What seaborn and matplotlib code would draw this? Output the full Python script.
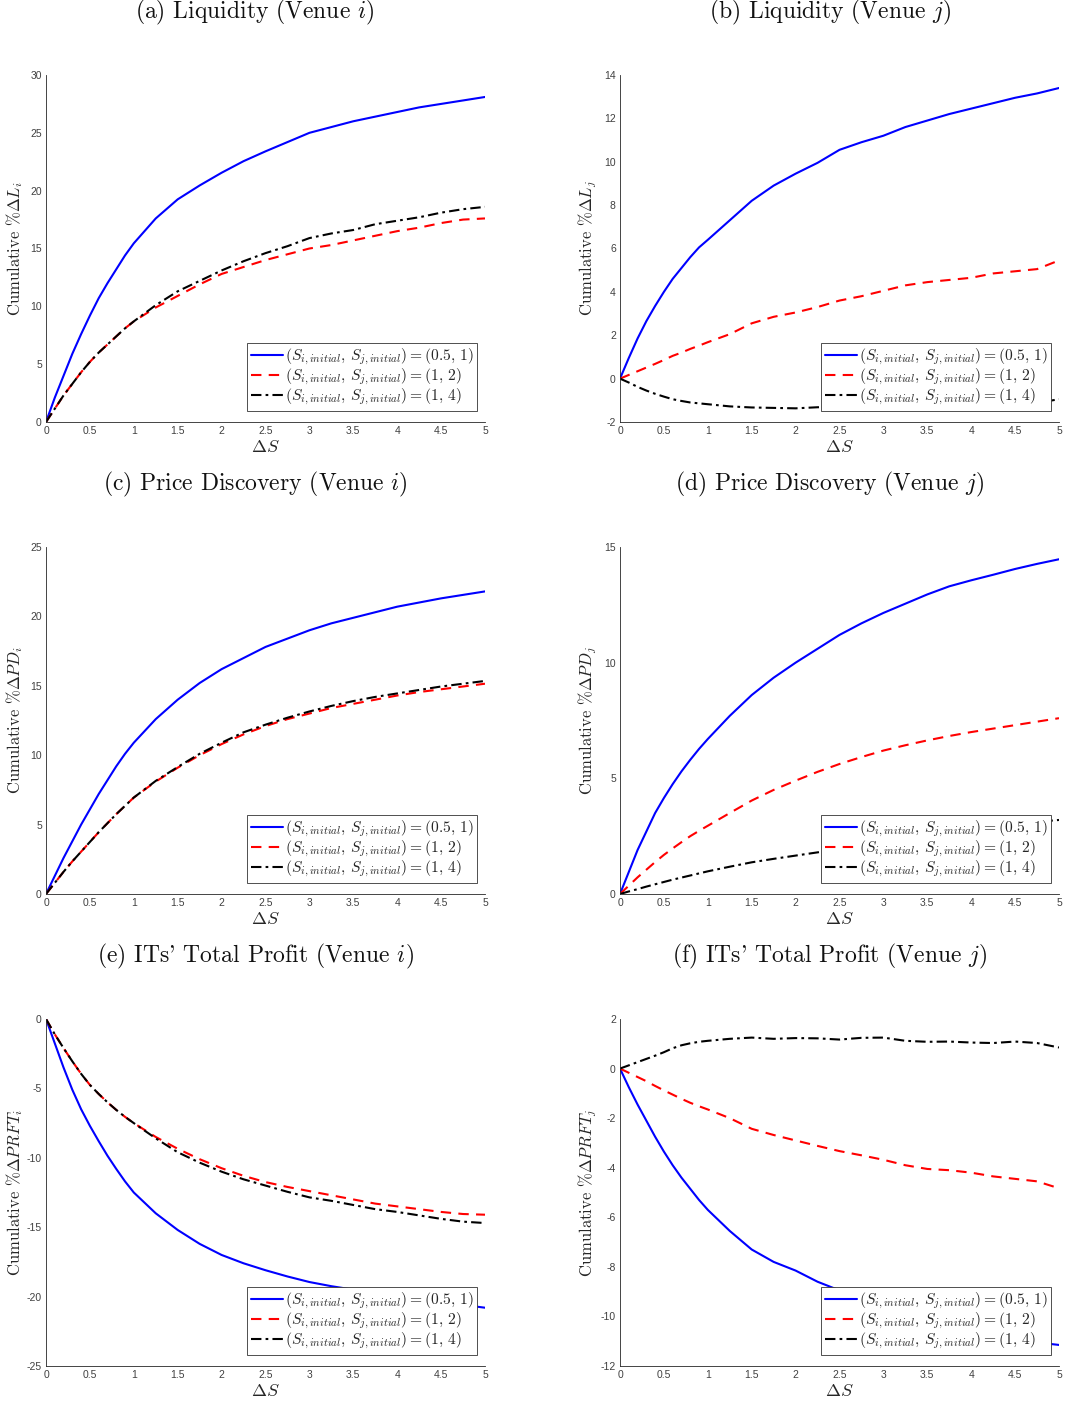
import numpy as np
import pandas as pd
import matplotlib
matplotlib.use("Agg")
import matplotlib.pyplot as plt
import seaborn as sns

# Shift grid for the cumulative responses (finer near the origin)
delta_s = [0.0, 0.1, 0.2, 0.3, 0.4, 0.5, 0.6, 0.7, 0.8, 0.9, 1.0,
           1.25, 1.5, 1.75, 2.0, 2.25, 2.5, 2.75, 3.0, 3.25, 3.5,
           3.75, 4.0, 4.25, 4.5, 4.75, 5.0]

series_labels = [
    r"$(S_{i,initial},\, S_{j,initial}) = (0.5,\, 1)$",
    r"$(S_{i,initial},\, S_{j,initial}) = (1,\, 2)$",
    r"$(S_{i,initial},\, S_{j,initial}) = (1,\, 4)$",
]

# (a) Liquidity, venue i
liq_i_05_1 = [0, 2.1, 4.0, 5.9, 7.6, 9.2, 10.7, 12.0, 13.2, 14.4, 15.45,
              17.6, 19.25, 20.45, 21.55, 22.55, 23.4, 24.2, 25.0, 25.5, 26.0,
              26.4, 26.8, 27.2, 27.5, 27.8, 28.1]
liq_i_1_2 = [0, 1.15, 2.3, 3.3, 4.3, 5.2, 6.0, 6.7, 7.4, 8.1, 8.7,
             9.9, 10.9, 11.9, 12.8, 13.4, 14.0, 14.5, 15.0, 15.3, 15.7,
             16.1, 16.5, 16.8, 17.2, 17.5, 17.6]
liq_i_1_4 = [0, 1.15, 2.3, 3.3, 4.3, 5.2, 6.0, 6.7, 7.4, 8.1, 8.7,
             10.1, 11.3, 12.2, 13.1, 13.9, 14.6, 15.2, 15.9, 16.3, 16.6,
             17.1, 17.4, 17.7, 18.1, 18.4, 18.6]

# (b) Liquidity, venue j
liq_j_05_1 = [0, 0.95, 1.85, 2.65, 3.35, 4.0, 4.6, 5.1, 5.6, 6.05, 6.4,
              7.3, 8.2, 8.9, 9.45, 9.95, 10.55, 10.9, 11.2, 11.6, 11.9,
              12.2, 12.45, 12.7, 12.95, 13.15, 13.4]
liq_j_1_2 = [0, 0.17, 0.34, 0.51, 0.68, 0.86, 1.05, 1.2, 1.37, 1.52, 1.68,
             2.05, 2.55, 2.85, 3.05, 3.3, 3.6, 3.8, 4.05, 4.3, 4.45,
             4.55, 4.65, 4.85, 4.95, 5.05, 5.45]
liq_j_1_4 = [0, -0.18, -0.38, -0.55, -0.7, -0.83, -0.95, -1.03, -1.1, -1.14, -1.18,
             -1.28, -1.33, -1.35, -1.37, -1.32, -1.3, -1.3, -1.28, -1.27, -1.25,
             -1.24, -1.22, -1.2, -1.18, -1.12, -0.95]

# (c) Price discovery, venue i
pd_i_05_1 = [0, 1.3, 2.6, 3.8, 5.0, 6.1, 7.2, 8.2, 9.2, 10.1, 10.9,
             12.6, 14.0, 15.2, 16.2, 17.0, 17.8, 18.4, 19.0, 19.5, 19.9,
             20.3, 20.7, 21.0, 21.3, 21.55, 21.8]
pd_i_1_2 = [0, 0.8, 1.6, 2.35, 3.05, 3.75, 4.45, 5.1, 5.75, 6.35, 6.95,
            8.1, 9.1, 10.0, 10.8, 11.5, 12.1, 12.6, 13.0, 13.4, 13.7,
            14.0, 14.3, 14.55, 14.75, 14.95, 15.15]
pd_i_1_4 = [0, 0.8, 1.6, 2.35, 3.05, 3.75, 4.45, 5.1, 5.75, 6.35, 6.95,
            8.15, 9.15, 10.1, 10.9, 11.65, 12.2, 12.7, 13.15, 13.55, 13.9,
            14.2, 14.45, 14.7, 14.95, 15.15, 15.35]

# (d) Price discovery, venue j
pd_j_05_1 = [0, 0.95, 1.9, 2.7, 3.5, 4.15, 4.75, 5.3, 5.8, 6.27, 6.7,
             7.7, 8.6, 9.35, 10.0, 10.6, 11.2, 11.7, 12.15, 12.55, 12.95,
             13.3, 13.56, 13.8, 14.05, 14.27, 14.47]
pd_j_1_2 = [0, 0.36, 0.72, 1.05, 1.38, 1.69, 1.97, 2.24, 2.5, 2.73, 2.95,
            3.5, 4.04, 4.5, 4.9, 5.28, 5.62, 5.92, 6.2, 6.43, 6.64,
            6.83, 7.0, 7.15, 7.3, 7.45, 7.6]
pd_j_1_4 = [0, 0.11, 0.21, 0.32, 0.42, 0.52, 0.62, 0.71, 0.8, 0.89, 0.98,
            1.18, 1.37, 1.52, 1.66, 1.8, 1.95, 2.1, 2.25, 2.4, 2.55,
            2.68, 2.8, 2.92, 3.03, 3.12, 3.2]

# (e) ITs' total profit, venue i
prft_i_05_1 = [0, -1.75, -3.5, -5.1, -6.5, -7.7, -8.8, -9.85, -10.8, -11.7, -12.5,
               -14.0, -15.2, -16.2, -17.0, -17.6, -18.1, -18.55, -18.95, -19.25, -19.5,
               -19.75, -19.95, -20.15, -20.35, -20.6, -20.8]
prft_i_1_2 = [0, -1.1, -2.1, -3.05, -3.95, -4.75, -5.4, -6.0, -6.55, -7.05, -7.5,
              -8.5, -9.35, -10.1, -10.75, -11.3, -11.75, -12.1, -12.4, -12.7, -13.0,
              -13.3, -13.5, -13.7, -13.9, -14.05, -14.1]
prft_i_1_4 = [0, -1.1, -2.1, -3.05, -3.95, -4.75, -5.4, -6.0, -6.55, -7.05, -7.5,
              -8.6, -9.6, -10.35, -11.0, -11.55, -12.0, -12.45, -12.85, -13.1, -13.4,
              -13.7, -13.9, -14.15, -14.4, -14.6, -14.7]

# (f) ITs' total profit, venue j
prft_j_05_1 = [0, -0.75, -1.45, -2.1, -2.75, -3.35, -3.9, -4.4, -4.85, -5.3, -5.7,
               -6.55, -7.3, -7.8, -8.15, -8.6, -8.95, -9.3, -9.6, -9.9, -10.15,
               -10.4, -10.6, -10.8, -10.95, -11.05, -11.15]
prft_j_1_2 = [0, -0.17, -0.34, -0.51, -0.7, -0.88, -1.05, -1.22, -1.38, -1.52, -1.65,
              -2.0, -2.43, -2.68, -2.9, -3.12, -3.33, -3.5, -3.68, -3.9, -4.05,
              -4.1, -4.2, -4.35, -4.45, -4.55, -4.83]
prft_j_1_4 = [0, 0.13, 0.26, 0.39, 0.52, 0.66, 0.82, 0.94, 1.02, 1.08, 1.12,
              1.2, 1.25, 1.2, 1.23, 1.22, 1.17, 1.24, 1.25, 1.12, 1.08,
              1.09, 1.05, 1.03, 1.09, 1.03, 0.85]

panel_titles = [
    "(a) Liquidity (Venue $i$)", "(b) Liquidity (Venue $j$)",
    "(c) Price Discovery (Venue $i$)", "(d) Price Discovery (Venue $j$)",
    "(e) ITs' Total Profit (Venue $i$)", "(f) ITs' Total Profit (Venue $j$)",
]
y_labels = [
    r"Cumulative $\%\Delta L_i$", r"Cumulative $\%\Delta L_j$",
    r"Cumulative $\%\Delta PD_i$", r"Cumulative $\%\Delta PD_j$",
    r"Cumulative $\%\Delta PRFT_i$", r"Cumulative $\%\Delta PRFT_j$",
]
panel_series = [
    (liq_i_05_1, liq_i_1_2, liq_i_1_4),
    (liq_j_05_1, liq_j_1_2, liq_j_1_4),
    (pd_i_05_1, pd_i_1_2, pd_i_1_4),
    (pd_j_05_1, pd_j_1_2, pd_j_1_4),
    (prft_i_05_1, prft_i_1_2, prft_i_1_4),
    (prft_j_05_1, prft_j_1_2, prft_j_1_4),
]
y_limits = [(0, 30), (-2, 14), (0, 25), (0, 15), (-25, 0), (-12, 2)]
y_steps = [5, 2, 5, 5, 5, 2]

sns.set_theme(style="white")
plt.rcParams["mathtext.fontset"] = "cm"
plt.rcParams["axes.unicode_minus"] = False

ink = "#262626"
colors = ["#0000ff", "#ff0000", "#000000"]
styles = ["-", (0, (5, 3.5)), (0, (5, 2, 1.3, 2))]

fig = plt.figure(figsize=(10.65, 14.01), dpi=100)
W, H = 1065.0, 1401.0
col_left = [46, 620]
row_top = [75, 547, 1019]
ax_w, ax_h = 439, 347
title_y = [12, 484, 956]
title_x = [255, 830]

for k in range(6):
    r, c = divmod(k, 2)
    left = col_left[c] / W
    bottom = 1 - (row_top[r] + ax_h) / H
    ax = fig.add_axes([left, bottom, ax_w / W, ax_h / H])
    for s in range(3):
        frame = pd.DataFrame({"dS": delta_s, "val": panel_series[k][s]})
        sns.lineplot(data=frame, x="dS", y="val", ax=ax, color=colors[s],
                     linestyle=styles[s], linewidth=1.5, label=series_labels[s],
                     errorbar=None, sort=False)
    ax.set_xlim(0, 5)
    ax.set_ylim(*y_limits[k])
    ax.set_xticks(np.arange(0, 5.01, 0.5))
    ax.set_xticklabels(["0", "0.5", "1", "1.5", "2", "2.5", "3", "3.5", "4", "4.5", "5"])
    lo, hi = y_limits[k]
    ax.set_yticks(np.arange(lo, hi + 0.01, y_steps[k]))
    ax.tick_params(direction="in", length=4, width=0.6, colors=ink,
                   labelsize=7.5, pad=3)
    for lab in ax.get_xticklabels() + ax.get_yticklabels():
        lab.set_family("Liberation Sans")
        lab.set_color("#404040")
    for side in ["top", "right"]:
        ax.spines[side].set_visible(False)
    for side in ["left", "bottom"]:
        ax.spines[side].set_color(ink)
        ax.spines[side].set_linewidth(0.6)
    ax.set_xlabel(r"$\Delta S$", fontsize=13, color=ink, labelpad=1)
    ax.set_ylabel(y_labels[k], fontsize=12, color=ink, family="cmr10")
    ax.yaxis.set_label_coords(-0.048, 0.5)
    leg = ax.legend(loc="lower right", bbox_to_anchor=(0.982, 0.032),
                    borderaxespad=0, fontsize=11.2, frameon=True, fancybox=False,
                    handlelength=2.05, handletextpad=0.15, borderpad=0.22,
                    labelspacing=0.0)
    leg.get_frame().set_edgecolor("#333333")
    leg.get_frame().set_linewidth(0.6)
    leg.get_frame().set_alpha(1)
    fig.text(title_x[c] / W, 1 - title_y[r] / H, panel_titles[k], ha="center",
             va="center", fontsize=17, family="cmr10", color="#111111")

fig.savefig("out.png", dpi=100)
